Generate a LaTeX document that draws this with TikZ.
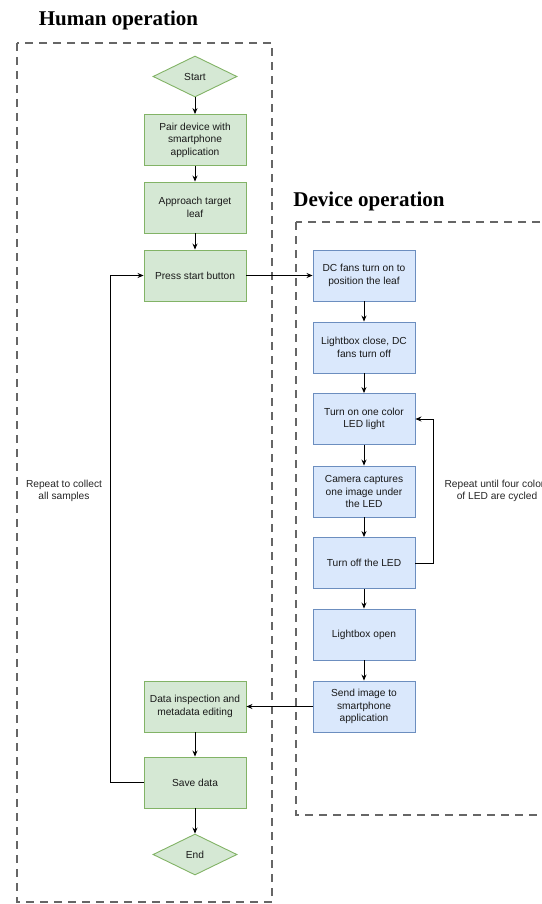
\documentclass[tikz,border=0pt]{standalone}
\usepackage{fontspec}
\setmainfont{Liberation Sans}
\newfontfamily\titlefont{Liberation Serif}
\usetikzlibrary{shapes.geometric,arrows.meta}
\definecolor{gfill}{HTML}{D5E8D4}
\definecolor{gline}{HTML}{82B366}
\definecolor{bfill}{HTML}{DAE8FC}
\definecolor{bline}{HTML}{6C8EBF}
\definecolor{frame}{HTML}{666666}
\tikzset{
  x=1pt,y=-1pt,
  base/.style={rectangle,minimum width=102pt,minimum height=51pt,align=center,inner sep=0pt,line width=0.9pt,font=\fontsize{10.2}{12.5}\selectfont,text=black!90},
  gbox/.style={base,fill=gfill,draw=gline},
  bbox/.style={base,fill=bfill,draw=bline},
  gdiam/.style={diamond,aspect=2,minimum width=84pt,minimum height=41pt,inner sep=0pt,fill=gfill,draw=gline,line width=0.9pt,font=\fontsize{10.2}{12.5}\selectfont,text=black!90},
  grp/.style={draw=frame,line width=2.6pt,dash pattern=on 8pt off 6pt},
  ttl/.style={font=\titlefont\bfseries\fontsize{21}{24}\selectfont,anchor=center},
  lbl/.style={align=center,font=\fontsize{10.2}{12.5}\selectfont,text=black!85},
  arr/.style={-{Stealth[length=6pt,width=5pt]},line width=0.8pt},
}
\begin{document}
\begin{tikzpicture}
\useasboundingbox (0,0) rectangle (541,904);
% group frames
\draw[grp] (17,43) rectangle (272,902);
\draw[grp] (296,222) rectangle (560,815);
\node[ttl] (th) at (118.5,20) {Human operation};
\node[ttl] (td) at (369,201) {Device operation};
% human nodes
\node[gdiam] (start) at (195,76.5) {Start};
\node[gbox] (pair) at (195,140) {Pair device with\\smartphone\\application};
\node[gbox] (appr) at (195,207.5) {Approach target\\leaf};
\node[gbox] (press) at (195,275.5) {Press start button};
\node[gbox] (insp) at (195,706.5) {Data inspection and\\metadata editing};
\node[gbox] (save) at (195,782.5) {Save data};
\node[gdiam] (end) at (195,854.5) {End};
% device nodes
\node[bbox] (fans) at (364,275.5) {DC fans turn on to\\position the leaf};
\node[bbox] (close) at (364,347.5) {Lightbox close, DC\\fans turn off};
\node[bbox] (ledon) at (364,419) {Turn on one color\\LED light};
\node[bbox] (cam) at (364,491.5) {Camera captures\\one image under\\the LED};
\node[bbox] (ledoff) at (364,563) {Turn off the LED};
\node[bbox] (open) at (364,634.5) {Lightbox open};
\node[bbox] (send) at (364,706.5) {Send image to\\smartphone\\application};
% labels
\node[lbl] (l1) at (64,491) {Repeat to collect\\all samples};
\node[lbl] (l2) at (497,491) {Repeat until four colors\\of LED are cycled};
% connectors
\draw[arr] (start) -- (pair);
\draw[arr] (pair) -- (appr);
\draw[arr] (appr) -- (press);
\draw[arr] (press) -- (fans);
\draw[arr] (fans) -- (close);
\draw[arr] (close) -- (ledon);
\draw[arr] (ledon) -- (cam);
\draw[arr] (cam) -- (ledoff);
\draw[arr] (ledoff) -- (open);
\draw[arr] (open) -- (send);
\draw[arr] (send) -- (insp);
\draw[arr] (insp) -- (save);
\draw[arr] (save) -- (end);
\draw[arr] (ledoff.east) -- ++(18,0) |- (ledon.east);
\draw[arr] (save.west) -- ++(-33.5,0) |- (press.west);
\end{tikzpicture}
\end{document}
